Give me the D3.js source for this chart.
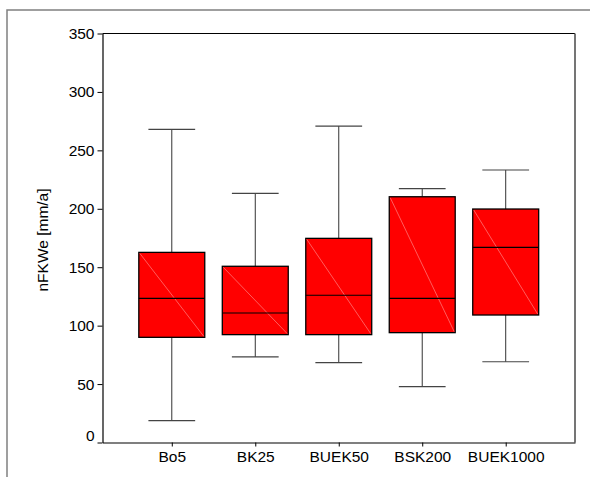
<!DOCTYPE html>
<html>
<head>
<meta charset="utf-8">
<script src="https://cdn.jsdelivr.net/npm/d3@7"></script>
<style>
  html, body { margin: 0; padding: 0; background: #fff; }
  svg { display: block; }
  text { font-family: "Liberation Sans", Arial, sans-serif; fill: #000; }
</style>
</head>
<body>
<svg id="chart" width="590" height="477"></svg>
<script>
const categories = ["Bo5", "BK25", "BUEK50", "BSK200", "BUEK1000"];
const whiskerLow  = [18.7, 73.2, 68.3, 47.8, 69.1];
const q1          = [90.0, 92.3, 92.3, 94.0, 109.1];
const median      = [123.4, 110.8, 126.0, 123.4, 167.0];
const q3          = [162.7, 150.8, 174.7, 210.3, 199.8];
const whiskerHigh = [268.0, 213.2, 270.8, 217.2, 233.2];
const yTicks = [0, 50, 100, 150, 200, 250, 300, 350];
const yTitle = "nFKWe [mm/a]";

const svg = d3.select("#chart");
const L = 102.5, T = 33.5, R = 575, B = 442.5;
const FS = 15.5;

// outer frame (top + left)
svg.append("path").attr("d", `M7,477 V10 H590`).attr("fill", "none")
  .attr("stroke", "#808080").attr("stroke-width", 1.5);

const x = d3.scalePoint().domain(categories).range([L, R]).padding(0.83);
const y = d3.scaleLinear().domain([0, 350]).range([B, T]);
const step = x.step();
const boxW = step * 0.79, capW = step * 0.56;

const data = categories.map((c, i) => ({c, lo: whiskerLow[i], q1: q1[i], med: median[i], q3: q3[i], hi: whiskerHigh[i]}));

const g = svg.append("g");
data.forEach(d => {
  const cx = x(d.c);
  g.append("line").attr("x1", cx).attr("x2", cx).attr("y1", y(d.hi)).attr("y2", y(d.q3)).attr("stroke", "#333").attr("stroke-width", 1);
  g.append("line").attr("x1", cx).attr("x2", cx).attr("y1", y(d.q1)).attr("y2", y(d.lo)).attr("stroke", "#333").attr("stroke-width", 1);
  g.append("line").attr("x1", cx - capW/2).attr("x2", cx + capW/2).attr("y1", y(d.hi)).attr("y2", y(d.hi)).attr("stroke", "#444").attr("stroke-width", 1.2);
  g.append("line").attr("x1", cx - capW/2).attr("x2", cx + capW/2).attr("y1", y(d.lo)).attr("y2", y(d.lo)).attr("stroke", "#444").attr("stroke-width", 1.2);
  g.append("rect").attr("x", cx - boxW/2).attr("y", y(d.q3)).attr("width", boxW).attr("height", y(d.q1) - y(d.q3))
    .attr("fill", "#ff0000").attr("stroke", "#000").attr("stroke-width", 1.3);
  g.append("line").attr("x1", cx - boxW/2 + 1).attr("y1", y(d.q3) + 1).attr("x2", cx + boxW/2 - 1).attr("y2", y(d.q1) - 1)
    .attr("stroke", "#ff9a9a").attr("stroke-width", 0.6);
  g.append("line").attr("x1", cx - boxW/2).attr("x2", cx + boxW/2).attr("y1", y(d.med)).attr("y2", y(d.med)).attr("stroke", "#000").attr("stroke-width", 1.2);
});

// plot frame
svg.append("line").attr("x1", L).attr("x2", R).attr("y1", T).attr("y2", T).attr("stroke", "#000").attr("stroke-width", 1.2);
svg.append("line").attr("x1", R).attr("x2", R).attr("y1", T).attr("y2", B).attr("stroke", "#666").attr("stroke-width", 1.8);

// y axis
const yAxis = svg.append("g").attr("transform", `translate(${L},0)`)
  .call(d3.axisLeft(y).tickValues(yTicks).tickSize(5).tickPadding(3).tickSizeOuter(0));
yAxis.select(".domain").attr("stroke", "#000").attr("stroke-width", 1.2);
yAxis.selectAll(".tick line").attr("stroke", "#000");
yAxis.selectAll(".tick text").attr("font-size", FS).attr("font-family", "Liberation Sans, Arial, sans-serif").attr("fill", "#000")
  .attr("dy", d => d === 0 ? "-0.1em" : "0.32em");

// x axis
const xAxis = svg.append("g").attr("transform", `translate(0,${B})`)
  .call(d3.axisBottom(x).tickSize(4).tickPadding(4).tickSizeOuter(0));
xAxis.select(".domain").attr("stroke", "#000").attr("stroke-width", 1.2);
xAxis.selectAll(".tick line").attr("stroke", "#000");
xAxis.selectAll(".tick text").attr("font-size", FS).attr("font-family", "Liberation Sans, Arial, sans-serif").attr("fill", "#000");

// y title
svg.append("text").attr("transform", `translate(48,${(T + B) / 2 + 2}) rotate(-90)`)
  .attr("text-anchor", "middle").attr("font-size", FS).text(yTitle);
</script>
</body>
</html>
